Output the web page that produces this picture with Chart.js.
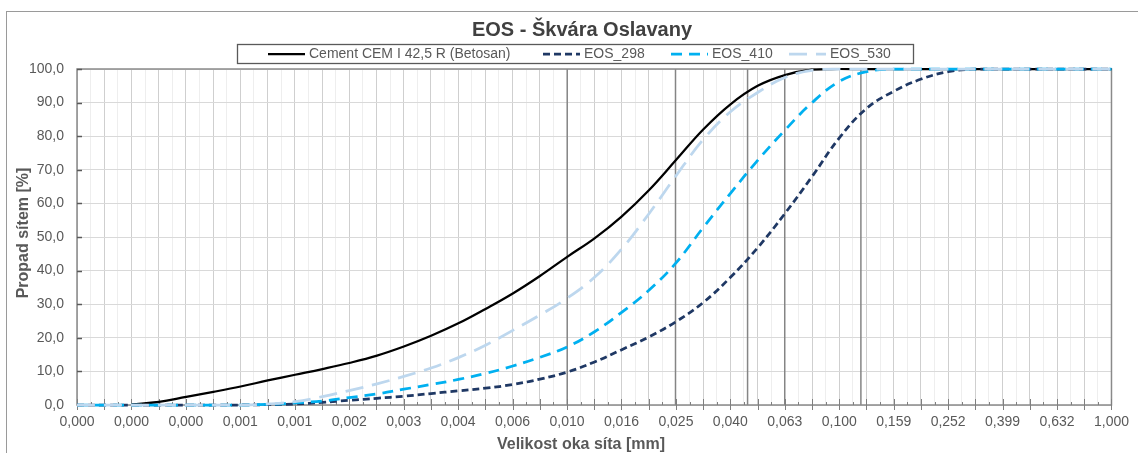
<!DOCTYPE html>
<html>
<head>
<meta charset="utf-8">
<script src="https://cdn.jsdelivr.net/npm/chart.js@4.4.1/dist/chart.umd.min.js"></script>
<style>
html,body{margin:0;padding:0;background:#fff;}
#wrap{width:1138px;height:453px;position:relative;overflow:hidden;}
</style>
</head>
<body>
<div id="wrap"><canvas id="c" width="1138" height="453"></canvas></div>
<script>
// ---------- DATA ----------
const chartTitle = 'EOS - Škvára Oslavany';
const xAxisTitle = 'Velikost oka síta [mm]';
const yAxisTitle = 'Propad sítem [%]';
const seriesNames = ['Cement CEM I 42,5 R (Betosan)', 'EOS_298', 'EOS_410', 'EOS_530'];

// sieve sizes [mm]
const sizes = [0.000158, 0.000200, 0.000251, 0.000316, 0.000398, 0.000501, 0.000631, 0.000794,
  0.001000, 0.00126, 0.00158, 0.00200, 0.00251, 0.00316, 0.00398, 0.00501, 0.00631, 0.00794,
  0.0100, 0.0126, 0.0158, 0.0200, 0.0251, 0.0316, 0.0398, 0.0501, 0.0631, 0.0794,
  0.100, 0.126, 0.158, 0.200, 0.251, 0.316, 0.398, 0.501, 0.631, 0.794, 1.000];

// passing [%]
const cement = [null, null, 0.2, 0.9, 2.4, 3.9, 5.5, 7.3, 9.0, 10.7, 12.5, 14.7, 17.4, 20.6, 24.3,
  28.6, 33.2, 38.4, 44.1, 49.6, 56.0, 64.0, 72.9, 82.0, 89.5, 95.0, 98.2, 99.8, 100,
  100, 100, 100, 100, 100, 100, 100, 100, 100, 100];
const eos298 = [0, 0, 0, 0, 0, 0, 0, 0.1, 0.3, 0.8, 1.4, 2.0, 2.6, 3.4, 4.2, 5.0, 6.1, 7.7, 9.8,
  12.8, 16.4, 20.3, 24.8, 30.5, 38.0, 46.8, 57.0, 68.0, 79.5, 88.3, 93.3, 97.0, 99.2, 100,
  100, 100, 100, 100, 100];
const eos410 = [0, 0, 0, 0, 0, 0, 0, 0.2, 0.6, 1.2, 2.2, 3.3, 4.7, 6.1, 7.6, 9.4, 11.6, 14.2, 17.3,
  21.8, 27.5, 34.2, 42.3, 52.8, 63.0, 72.8, 81.8, 90.0, 96.3, 99.2, 100,
  100, 100, 100, 100, 100, 100, 100, 100];
const eos530 = [0, 0, 0, 0, 0, 0, 0, 0.3, 1.0, 2.5, 4.3, 6.3, 8.5, 11.0, 14.1, 17.8, 22.2, 26.8, 31.8,
  38.0, 46.3, 57.0, 68.2, 79.0, 87.3, 93.0, 97.5, 99.6, 100,
  100, 100, 100, 100, 100, 100, 100, 100, 100, 100];

// highlighted sieve lines [mm]
const sieveLines = [0.010, 0.025, 0.046, 0.063, 0.12];

// x tick labels (every 4th tick)
const tickLabels = ['0,000', '0,000', '0,000', '0,001', '0,001', '0,002', '0,003', '0,004', '0,006', '0,010',
  '0,016', '0,025', '0,040', '0,063', '0,100', '0,159', '0,252', '0,399', '0,632', '1,000'];
const xMin = sizes[0], xMax = 1.0;

// ---------- STYLE ----------
const FONT = '"Liberation Sans", Arial, sans-serif';
Chart.defaults.font.family = FONT;
const styles = [
  { color: '#000000', width: 2.25, dash: [] },
  { color: '#1f3864', width: 2.75, dash: [7, 4] },
  { color: '#00b0f0', width: 2.75, dash: [11, 7] },
  { color: '#bdd7ee', width: 2.75, dash: [18, 9] }
];
const seriesData = [cement, eos298, eos410, eos530];

const datasets = seriesData.map((arr, i) => ({
  label: seriesNames[i],
  data: sizes.map((s, j) => ({ x: s, y: arr[j] })),
  borderColor: styles[i].color,
  backgroundColor: styles[i].color,
  borderWidth: styles[i].width,
  borderDash: styles[i].dash,
  borderCapStyle: 'butt',
  pointRadius: 0,
  fill: false,
  tension: 0.4,
  clip: false,
  order: 4 - i
}));

const decor = {
  id: 'decor',
  beforeDraw(chart) {
    const { ctx } = chart;
    ctx.save();
    ctx.fillStyle = '#ffffff';
    ctx.fillRect(0, 0, chart.width, chart.height);
    ctx.strokeStyle = '#9a9a9a';
    ctx.lineWidth = 1;
    ctx.strokeRect(6.5, 11.5, 1200, 500);
    ctx.restore();
  },
  beforeDatasetsDraw(chart) {
    const { ctx, chartArea: a, scales: { x, y } } = chart;
    ctx.save();
    ctx.strokeStyle = '#858585';
    ctx.lineWidth = 1.5;
    sieveLines.forEach(v => {
      const px = x.getPixelForValue(v);
      ctx.beginPath(); ctx.moveTo(px, a.top); ctx.lineTo(px, a.bottom); ctx.stroke();
    });
    ctx.strokeStyle = '#8a8a8a';
    ctx.lineWidth = 1.5;
    ctx.strokeRect(a.left, a.top, a.right - a.left, a.bottom - a.top);
    ctx.lineWidth = 1;
    ctx.strokeStyle = '#7f7f7f';
    x.ticks.forEach((t, i) => {
      const px = Math.round(x.getPixelForValue(t.value)) + 0.5;
      ctx.beginPath();
      if (i % 2 === 0) { ctx.moveTo(px, a.bottom - 6); ctx.lineTo(px, a.bottom + 5); }
      else { ctx.moveTo(px, a.bottom - 3); ctx.lineTo(px, a.bottom); }
      ctx.stroke();
    });
    ctx.lineWidth = 1.5;
    ctx.strokeStyle = '#595959';
    y.ticks.forEach(t => {
      const py = Math.round(y.getPixelForValue(t.value)) + 0.5;
      ctx.beginPath(); ctx.moveTo(a.left, py); ctx.lineTo(a.left + 5, py); ctx.stroke();
    });
    ctx.restore();
  },
  afterDraw(chart) {
    const { ctx, chartArea: a } = chart;
    const o = chart.options.plugins.decor;
    ctx.save();
    ctx.fillStyle = '#404040';
    ctx.font = 'bold 20px ' + FONT;
    ctx.textAlign = 'center';
    ctx.textBaseline = 'middle';
    ctx.fillText(chartTitle, o.titleX, o.titleY);
    ctx.fillStyle = '#595959';
    ctx.font = 'bold 16px ' + FONT;
    ctx.fillText(xAxisTitle, o.xTitleX, o.xTitleY);
    ctx.save();
    ctx.translate(o.yTitleX, (a.top + a.bottom) / 2 - 4);
    ctx.rotate(-Math.PI / 2);
    ctx.fillText(yAxisTitle, 0, 0);
    ctx.restore();
    const L = o.legend;
    ctx.fillStyle = '#ffffff';
    ctx.fillRect(L.x, L.y, L.w, L.h);
    ctx.strokeStyle = '#595959';
    ctx.lineWidth = 1.3;
    ctx.strokeRect(L.x + 0.5, L.y + 0.5, L.w, L.h);
    const cy = L.y + L.h / 2 + 0.5;
    ctx.font = '14px ' + FONT;
    ctx.textAlign = 'left';
    chart.data.datasets.forEach((ds, i) => {
      const tx = L.textX[i];
      ctx.strokeStyle = ds.borderColor;
      ctx.lineWidth = ds.borderWidth;
      ctx.setLineDash(ds.borderDash || []);
      ctx.beginPath(); ctx.moveTo(tx - 41, cy); ctx.lineTo(tx - 4, cy); ctx.stroke();
      ctx.setLineDash([]);
      ctx.fillStyle = '#595959';
      ctx.fillText(ds.label, tx, cy);
    });
    ctx.restore();
  }
};

new Chart(document.getElementById('c'), {
  type: 'line',
  data: { datasets },
  plugins: [decor],
  options: {
    responsive: false,
    animation: false,
    devicePixelRatio: 1,
    layout: { padding: { top: 69, right: 25, bottom: 0, left: 0 } },
    plugins: {
      legend: { display: false },
      title: { display: false },
      tooltip: { enabled: false },
      decor: {
        titleX: 582, titleY: 30,
        xTitleX: 581, xTitleY: 445,
        yTitleX: 24,
        legend: { x: 237, y: 44, w: 676, h: 19, textX: [309, 584, 712, 830] }
      }
    },
    scales: {
      x: {
        type: 'logarithmic',
        min: xMin, max: xMax,
        bounds: 'data',
        afterBuildTicks(scale) {
          const l0 = Math.log10(xMin), l1 = Math.log10(xMax);
          const n = (tickLabels.length - 1) * 4;
          const t = [];
          for (let j = 0; j <= n; j++) t.push({ value: Math.pow(10, l0 + (l1 - l0) * j / n) });
          scale.ticks = t;
        },
        afterFit(scale) { scale.height = 48; },
        ticks: {
          autoSkip: false, maxRotation: 0, minRotation: 0, padding: 9,
          color: '#595959', font: { size: 14 },
          callback: (v, i) => (i % 4 === 0 ? tickLabels[i / 4] : '')
        },
        grid: {
          color: c => (c.index % 2 === 0 ? '#cfcfcf' : '#eeeeee'),
          lineWidth: 1,
          drawTicks: false
        },
        border: { display: false }
      },
      y: {
        type: 'linear',
        min: 0, max: 100,
        afterFit(scale) { scale.width = 77; },
        ticks: {
          stepSize: 10, padding: 13, color: '#595959', font: { size: 14 },
          callback: v => v.toFixed(1).replace('.', ',')
        },
        grid: { color: '#d9d9d9', lineWidth: 1, drawTicks: false },
        border: { display: false }
      }
    }
  }
});
</script>
</body>
</html>
